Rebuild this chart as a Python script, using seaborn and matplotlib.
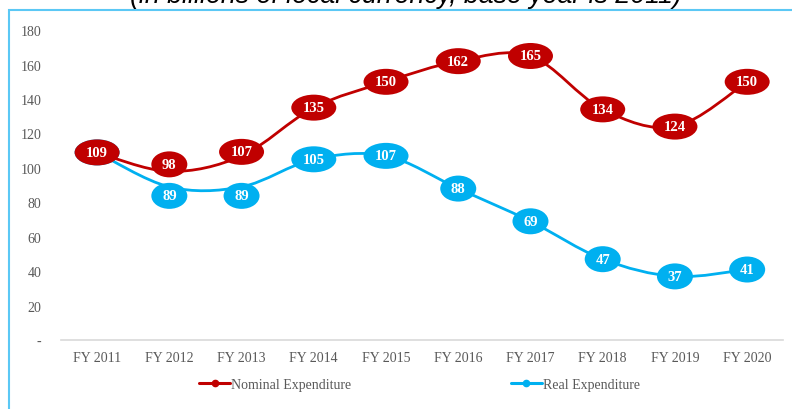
import numpy as np
import pandas as pd
import seaborn as sns
import matplotlib.pyplot as plt
from matplotlib.path import Path
from matplotlib.patches import PathPatch, Rectangle, Ellipse
from matplotlib.lines import Line2D
from matplotlib.transforms import ScaledTranslation

sns.set_theme(style="white")
plt.rcParams['font.family'] = ['Liberation Serif', 'DejaVu Serif']

years = ['FY 2011', 'FY 2012', 'FY 2013', 'FY 2014', 'FY 2015',
         'FY 2016', 'FY 2017', 'FY 2018', 'FY 2019', 'FY 2020']
nominal = [109, 98, 107, 135, 150, 162, 165, 134, 124, 150]
real = [109, 89, 89, 105, 107, 88, 69, 47, 37, 41]
series_names = ['Nominal Expenditure', 'Real Expenditure']
colors = {'Nominal Expenditure': '#C00000', 'Real Expenditure': '#00B0F0'}
title = '(in billions of local currency, base year is 2011)'

df = pd.concat([
    pd.DataFrame({'year': years, 'value': nominal, 'series': series_names[0]}),
    pd.DataFrame({'year': years, 'value': real, 'series': series_names[1]}),
])

fig = plt.figure(figsize=(7.92, 4.10), dpi=100)
ax = fig.add_axes([0.077, 0.168, 0.912, 0.756])

sns.lineplot(data=df, x='year', y='value', hue='series', palette=colors,
             marker='o', linewidth=0, markersize=4, markeredgewidth=0,
             legend=False, ax=ax, sort=False)


def smooth_path(ys):
    # excel-like smoothed line: cubic bezier through the points
    xs = np.arange(len(ys), dtype=float)
    pts = np.column_stack([xs, np.asarray(ys, dtype=float)])
    verts = [pts[0]]
    codes = [Path.MOVETO]
    n = len(pts)
    for i in range(n - 1):
        p0 = pts[i - 1] if i > 0 else pts[i]
        p1, p2 = pts[i], pts[i + 1]
        p3 = pts[i + 2] if i + 2 < n else pts[i + 1]
        verts += [p1 + (p2 - p0) / 6, p2 - (p3 - p1) / 6, p2]
        codes += [Path.CURVE4] * 3
    return Path(verts, codes)


def label(i, v, color, dy, z):
    # ellipse label sized in inches, anchored at the data point
    trans = fig.dpi_scale_trans + ScaledTranslation(i, v, ax.transData)
    w = 0.45 if len(str(v)) > 2 else 0.36
    ax.add_patch(Ellipse((0, dy), w, 0.26, transform=trans, fc=color,
                         ec='none', zorder=z, clip_on=False))
    ax.text(0, dy, str(v), transform=trans, ha='center', va='center',
            color='white', fontsize=10.5, fontweight='bold', zorder=z + 1)


# real first so the nominal labels sit on top
for name, vals, z in [(series_names[1], real, 3), (series_names[0], nominal, 6)]:
    c = colors[name]
    ax.add_patch(PathPatch(smooth_path(vals), fc='none', ec=c, lw=2.0,
                           zorder=z, capstyle='round'))
    for i, v in enumerate(vals):
        gap = nominal[i] - real[i]
        dy = 0.0
        if 0 < gap < 20:
            # nudge crowded labels apart
            dy = 0.07 if name == series_names[0] else -0.09
            if name == series_names[0] and gap > 12:
                dy = 0.04
        label(i, v, c, dy, z + 1)

ax.set_xlim(-0.5, len(years) - 0.5)
ax.set_ylim(0, 180)
ax.set_yticks(range(0, 181, 20))
ax.set_yticklabels(['-'] + [str(t) for t in range(20, 181, 20)])
ax.set_xlabel('')
ax.set_ylabel('')
ax.tick_params(axis='both', length=0, labelsize=10, colors='#595959')
ax.tick_params(axis='y', pad=14)
ax.tick_params(axis='x', pad=8)
for s in ['top', 'right', 'left']:
    ax.spines[s].set_visible(False)
ax.spines['bottom'].set_color('#D9D9D9')
ax.spines['bottom'].set_linewidth(1.2)

handles = [Line2D([], [], color=colors[n], lw=2.2, marker='o', markersize=4.5)
           for n in series_names]
fig.legend(handles, series_names, loc='center', bbox_to_anchor=(0.53, 0.06),
           ncol=2, frameon=False, fontsize=10, handlelength=2.2,
           handletextpad=0.1, columnspacing=11.5, labelcolor='#595959')

# outer frame (partly cut off like the source)
fig.patches.append(Rectangle((9 / 792, -0.2), 1.2, 1.2 - 11 / 410,
                             transform=fig.transFigure, fill=False,
                             ec='#5BC8F5', lw=1.5))
fig.text(0.513, 1 - 3 / 410, title, ha='center', va='baseline',
         fontsize=19.3, style='italic', family=['Liberation Sans', 'DejaVu Sans'],
         color='#000000')

fig.savefig('out.png', dpi=100)
